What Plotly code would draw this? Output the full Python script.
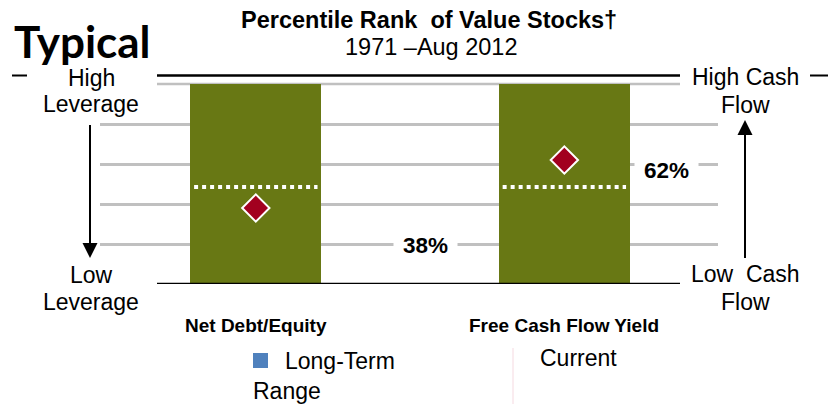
import plotly.graph_objects as go

# ---- data ----
categories = ["Net Debt/Equity", "Free Cash Flow Yield"]
range_low = [0, 0]
range_high = [100, 100]
median = [48.5, 48.5]
current = [38, 62]
current_labels = ["38%", "62%"]
grid_ticks = [20, 40, 60, 80]

W, H = 831, 404
L, R, T, B = 100, 113, 76, 120
PW, PH = W - L - R, H - T - B
YMAX = 104

def px(x):
    return (x - L) / PW

def py(y):
    return (H - B - y) / PH

FONT = "Arial, Liberation Sans, sans-serif"
OLIVE = "#687814"
RED = "#A2001F"

fig = go.Figure()

fig.add_trace(go.Bar(
    x=list(range(len(categories))),
    y=[h - l for h, l in zip(range_high, range_low)],
    base=range_low,
    width=0.425,
    marker=dict(color=OLIVE, line=dict(width=0)),
    showlegend=False,
    hoverinfo="skip",
))

for i, m in enumerate(median):
    fig.add_trace(go.Scatter(
        x=[i - 0.2, i + 0.2], y=[m, m], mode="lines",
        line=dict(color="white", width=4, dash="4px,4px"),
        showlegend=False, hoverinfo="skip",
    ))

fig.add_trace(go.Scatter(
    x=list(range(len(categories))), y=current, mode="markers",
    marker=dict(symbol="diamond", size=21, color=RED,
                line=dict(color="white", width=2)),
    showlegend=False, hoverinfo="skip",
))

shapes = []
shapes.append(dict(type="line", xref="paper", yref="paper", x0=px(157), x1=px(680),
                   y0=py(75.5), y1=py(75.5), line=dict(color="black", width=2.5)))
shapes.append(dict(type="line", xref="paper", yref="y", x0=px(157), x1=px(680),
                   y0=range_high[0], y1=range_high[0], line=dict(color="#C0C0C0", width=2.5),
                   layer="below"))
shapes.append(dict(type="line", xref="paper", yref="y", x0=px(157), x1=px(680),
                   y0=0, y1=0, line=dict(color="black", width=2.5)))
shapes.append(dict(type="line", xref="paper", yref="paper", x0=px(12), x1=px(27),
                   y0=py(75.5), y1=py(75.5), line=dict(color="black", width=2)))
shapes.append(dict(type="line", xref="paper", yref="paper", x0=px(810), x1=px(828),
                   y0=py(75.5), y1=py(75.5), line=dict(color="black", width=2)))
shapes.append(dict(type="line", xref="paper", yref="paper", x0=px(90), x1=px(90),
                   y0=py(125), y1=py(246), line=dict(color="black", width=2)))
shapes.append(dict(type="path", xref="paper", yref="paper",
                   path=f"M {px(82.5)} {py(243)} L {px(97.5)} {py(243)} L {px(90)} {py(258)} Z",
                   fillcolor="black", line=dict(color="black", width=0)))
shapes.append(dict(type="line", xref="paper", yref="paper", x0=px(745), x1=px(745),
                   y0=py(258), y1=py(133), line=dict(color="black", width=2)))
shapes.append(dict(type="path", xref="paper", yref="paper",
                   path=f"M {px(737.5)} {py(135)} L {px(752.5)} {py(135)} L {px(745)} {py(120)} Z",
                   fillcolor="black", line=dict(color="black", width=0)))
shapes.append(dict(type="rect", xref="paper", yref="paper", x0=px(253), x1=px(268),
                   y0=py(368), y1=py(353), fillcolor="#4F81BD", line=dict(width=0)))
shapes.append(dict(type="line", xref="paper", yref="paper", x0=px(513), x1=px(513),
                   y0=py(348), y1=py(404), line=dict(color="#F5D9E0", width=1)))

ann = []
def text(x, y, s, size=23, bold=False, xanchor="center", family=FONT, **kw):
    ann.append(dict(xref="paper", yref="paper", x=px(x), y=py(y), text=(f"<b>{s}</b>" if bold else s),
                    showarrow=False, xanchor=xanchor, yanchor="middle",
                    font=dict(family=family, size=size, color="black"), **kw))

text(12, 41, "Typical", size=44, bold=True, xanchor="left", family="Lato, Open Sans, sans-serif")
text(429, 20, "Percentile Rank\u00a0 of Value Stocks†", size=23.5, bold=True)
text(432, 47, "1971 –Aug 2012", size=23.5)

text(91, 78, "High")
text(91, 104, "Leverage")
text(91, 275, "Low")
text(91, 302, "Leverage")
text(745, 77, "High Cash")
text(745, 105, "Flow")
text(745, 274, "Low\u00a0 Cash")
text(745, 302, "Flow")

label_pos = [(425, 245), (666, 170)]
for (lx, ly), s in zip(label_pos, current_labels):
    text(lx, ly, s, size=22.5, bold=True, bgcolor="white", borderpad=9)

for i, c in enumerate(categories):
    ann.append(dict(xref="x", yref="paper", x=i, y=py(325), text=f"<b>{c}</b>",
                    showarrow=False, xanchor="center", yanchor="middle",
                    font=dict(family="Liberation Sans, Arial", size=19, color="black")))

text(283, 361, "Long-Term", xanchor="left")
text(251, 391, "Range", xanchor="left")
text(538, 358, "Current", xanchor="left")

fig.update_layout(
    width=W, height=H,
    margin=dict(l=L, r=R, t=T, b=B, pad=0),
    paper_bgcolor="white", plot_bgcolor="white",
    xaxis=dict(range=[-0.505, 1.498], showgrid=False, zeroline=False,
               showticklabels=False, ticks="", showline=False, fixedrange=True),
    yaxis=dict(range=[0, YMAX], tickvals=grid_ticks, showgrid=True,
               gridcolor="#C0C0C0", gridwidth=2.5, zeroline=False,
               showticklabels=False, ticks="", showline=False, fixedrange=True),
    shapes=shapes,
    annotations=ann,
    showlegend=False,
    bargap=0,
)

fig.write_html("out.html", config={"displayModeBar": False},
               post_script="document.body.style.margin='0';document.body.style.overflow='hidden';")
